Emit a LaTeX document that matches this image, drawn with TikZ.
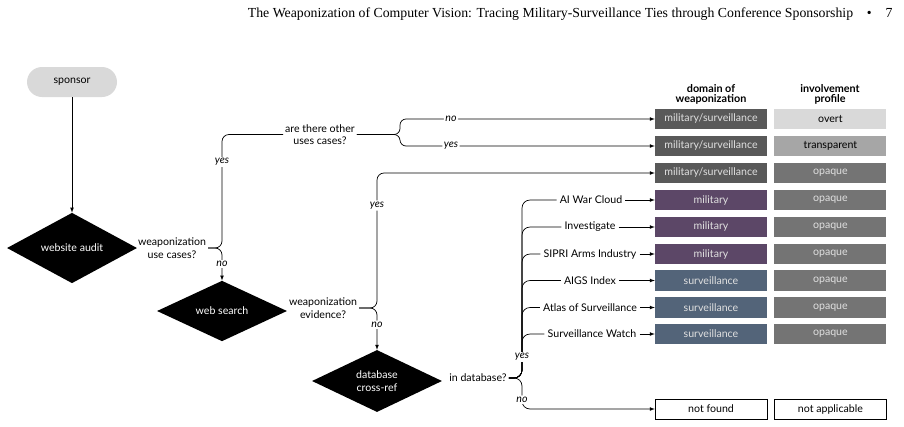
\documentclass[tikz,border=0pt]{standalone}
\usepackage{fontspec}
\setmainfont{Lato}
\newfontfamily\runheadfont{Liberation Serif}
\usetikzlibrary{arrows,shapes.geometric,positioning}
\definecolor{pillgray}{HTML}{D9D9D9}
\definecolor{dualgray}{HTML}{595959}
\definecolor{milpurple}{HTML}{5C4767}
\definecolor{survblue}{HTML}{536479}
\definecolor{transgray}{HTML}{A6A6A6}
\definecolor{opaquegray}{HTML}{747474}
\newcommand{\diagfont}{\fontsize{10.6}{12.5}\selectfont}
\tikzstyle{startbox}=[rectangle,rounded corners=15,fill=pillgray,minimum width=90,minimum height=30]
\tikzstyle{checkbox}=[diamond,fill=black,text=white,align=center,inner sep=0,minimum width=130,minimum height=51]
\tikzstyle{question}=[align=center,inner sep=2]
\tikzstyle{answer}=[fill=white,inner sep=1.5,font=\diagfont\itshape]
\tikzstyle{srclabel}=[inner sep=3]
\tikzstyle{tablecell}=[rectangle,minimum width=112,minimum height=20.5,inner sep=0,text=white!88!black]
\tikzstyle{tablehead}=[align=center,font=\fontsize{10.8}{10}\selectfont\bfseries]
\tikzstyle{flowline}=[draw=black,line width=.7pt,rounded corners=7]

\begin{document}
\begin{tikzpicture}[x=1pt,y=-1pt,>=latex,font=\diagfont]
\useasboundingbox (0,0) rectangle (904,426);
\node[anchor=base east,font=\runheadfont\fontsize{13.8}{15}\selectfont] (runhead) at (896,17) {The Weaponization of Computer Vision: Tracing Military-Surveillance Ties through Conference Sponsorship\quad\textbullet\quad 7};

% decision flow
\node[startbox] (sponsor) at (72,82) {sponsor};
\node[checkbox] (audit) at (72,248) {website audit};
\node[question] (usecases) at (172,248) {weaponization\\use cases?};
\node[question] (otheruses) at (320,134.5) {are there other\\uses cases?};
\node[checkbox] (websearch) at (222,311) {web search};
\node[question] (evidence) at (323,308) {weaponization\\evidence?};
\node[checkbox] (dbcheck) at (377,381) {database\\cross-ref};
\node[question] (indb) at (478,378) {in database?};

% outcome table
\node[tablehead] (domhead) at (711,94) {domain of\\weaponization};
\node[tablehead] (profhead) at (830,94) {involvement\\profile};
\node[tablecell,fill=dualgray] (dom1) at (711,119) {military/surveillance};
\node[tablecell,fill=pillgray,text=black,right=7pt of dom1] (prof1) {overt};
\node[tablecell,fill=dualgray] (dom2) at (711,146) {military/surveillance};
\node[tablecell,fill=transgray,text=black,right=7pt of dom2] (prof2) {transparent};
\node[tablecell,fill=dualgray] (dom3) at (711,173) {military/surveillance};
\node[tablecell,fill=opaquegray,right=7pt of dom3] (prof3) {opaque};
\node[tablecell,fill=milpurple] (dom4) at (711,200) {military};
\node[tablecell,fill=opaquegray,right=7pt of dom4] (prof4) {opaque};
\node[tablecell,fill=milpurple] (dom5) at (711,227) {military};
\node[tablecell,fill=opaquegray,right=7pt of dom5] (prof5) {opaque};
\node[tablecell,fill=milpurple] (dom6) at (711,254) {military};
\node[tablecell,fill=opaquegray,right=7pt of dom6] (prof6) {opaque};
\node[tablecell,fill=survblue] (dom7) at (711,280.5) {surveillance};
\node[tablecell,fill=opaquegray,right=7pt of dom7] (prof7) {opaque};
\node[tablecell,fill=survblue] (dom8) at (711,307.5) {surveillance};
\node[tablecell,fill=opaquegray,right=7pt of dom8] (prof8) {opaque};
\node[tablecell,fill=survblue] (dom9) at (711,334) {surveillance};
\node[tablecell,fill=opaquegray,right=7pt of dom9] (prof9) {opaque};
\node[tablecell,draw=black,text=black] (domnf) at (711,409) {not found};
\node[tablecell,draw=black,text=black,right=7pt of domnf] (profnf) {not applicable};

% databases
\node[srclabel] (awc) at (591,200) {AI War Cloud};
\node[srclabel] (invest) at (590,227) {Investigate};
\node[srclabel] (sipri) at (590,254) {SIPRI Arms Industry};
\node[srclabel] (aigs) at (590,280.5) {AIGS Index};
\node[srclabel] (atlas) at (590,307.5) {Atlas of Surveillance};
\node[srclabel] (swatch) at (592,334) {Surveillance Watch};

% connectors
\draw[flowline,->] (sponsor) -- (audit);

\coordinate (braceA) at (222,248);
\draw[flowline] (usecases.east) -- (braceA) |- (otheruses.west);
\draw[flowline,->] (usecases.east) -- (braceA) -- (websearch.north);
\node[answer] (yesA) at (222,162) {yes};
\node[answer] (noA) at (222,264) {no};

\coordinate (braceB) at (400,134.5);
\draw[flowline,rounded corners=6,->] (otheruses.east) -- (braceB) |- node[answer,pos=.6] (noB) {no} (dom1.west);
\draw[flowline,rounded corners=6,->] (otheruses.east) -- (braceB) |- node[answer,pos=.6] (yesB) {yes} (dom2.west);

\coordinate (braceC) at (377,308);
\draw[flowline,->] (evidence.east) -- (braceC) |- node[answer,pos=.38] (yesC) {yes} (dom3.west);
\draw[flowline,->] (evidence.east) -- (braceC) -- node[answer,pos=.4] (noC) {no} (dbcheck.north);

\coordinate (braceD) at (522,378);
\draw[flowline,rounded corners=8] (indb.east) -- (braceD) |- (awc.west);
\draw[flowline,rounded corners=8] (indb.east) -- (braceD) |- (invest.west);
\draw[flowline,rounded corners=8] (indb.east) -- (braceD) |- (sipri.west);
\draw[flowline,rounded corners=8] (indb.east) -- (braceD) |- (aigs.west);
\draw[flowline,rounded corners=8] (indb.east) -- (braceD) |- (atlas.west);
\draw[flowline,rounded corners=8] (indb.east) -- (braceD) |- (swatch.west);
\draw[flowline,rounded corners=8,->] (indb.east) -- (braceD) |- node[answer,pos=.35] (noD) {no} (domnf.west);
\node[answer] (yesD) at (522,357) {yes};

\draw[flowline,->] (awc) -- (dom4);
\draw[flowline,->] (invest) -- (dom5);
\draw[flowline,->] (sipri) -- (dom6);
\draw[flowline,->] (aigs) -- (dom7);
\draw[flowline,->] (atlas) -- (dom8);
\draw[flowline,->] (swatch) -- (dom9);
\end{tikzpicture}
\end{document}
